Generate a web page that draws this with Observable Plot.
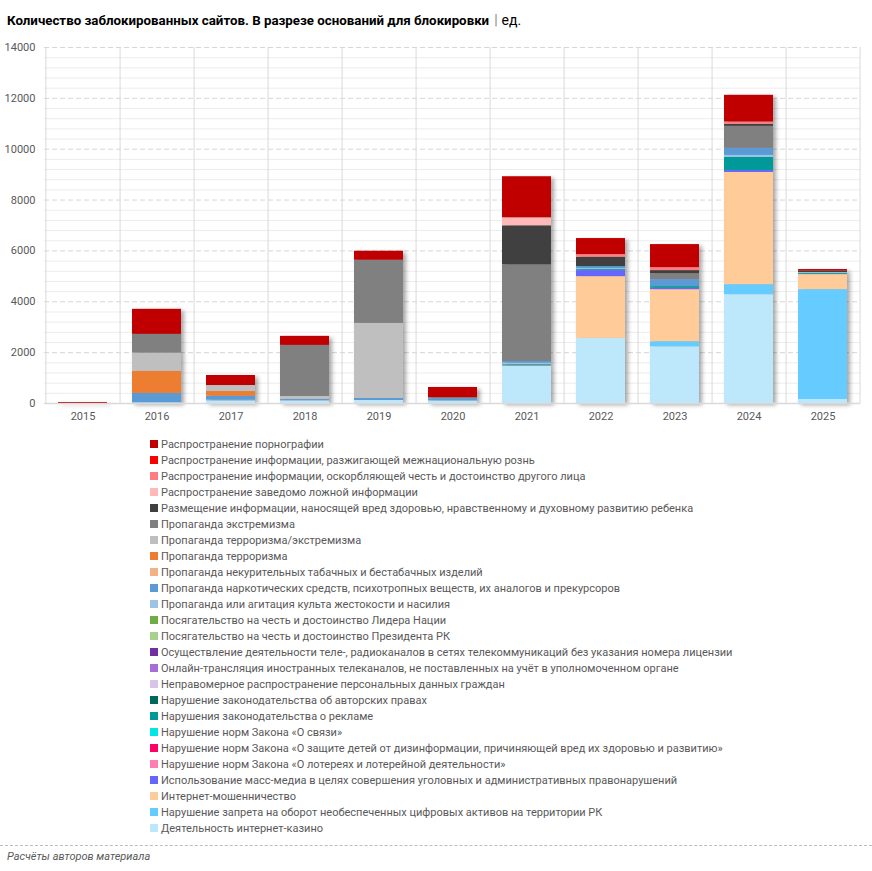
<!DOCTYPE html>
<html><head><meta charset="utf-8">
<script src="https://cdn.jsdelivr.net/npm/d3@7"></script>
<script src="https://cdn.jsdelivr.net/npm/@observablehq/plot@0.6"></script>
<style>
body{margin:0;background:#fff;font-family:Roboto,"Noto Sans",sans-serif;width:872px;}
#title{height:20px;padding-top:12px;padding-left:7px;font-size:13.3px;line-height:16px;color:#000;white-space:nowrap;}
#title b{font-weight:700}
#title .sep{color:#888;font-weight:400;font-size:14px;margin:0 4px 0 5px}
#title .u{font-weight:400;font-size:14px}
#legend{padding-top:3px;padding-left:150px;font-size:11px;color:#595959;}
#legend .row{height:16px;line-height:16px;white-space:nowrap;}
#legend .sw{display:inline-block;width:8px;height:8px;margin-right:3px;vertical-align:-0px;}
#rule{margin-top:8px;border-top:1px dashed #bdbdbd;}
#cap{padding-left:7px;padding-top:4px;font-size:11px;line-height:14px;font-style:italic;color:#595959;}
</style></head><body>
<div id="title"><b>Количество заблокированных сайтов. В разрезе оснований для блокировки</b><span class="sep">|</span><span class="u">ед.</span></div>
<div id="chart"></div>
<div id="legend"></div>
<div id="rule"></div>
<div id="cap">Расчёты авторов материала</div>
<script>
const years = ["2015","2016","2017","2018","2019","2020","2021","2022","2023","2024","2025"];
const yTicks = [0,2000,4000,6000,8000,10000,12000,14000];

// legend order (top of stack first)
const categories = [
  "Распространение порнографии",
  "Распространение информации, разжигающей межнациональную рознь",
  "Распространение информации, оскорбляющей честь и достоинство другого лица",
  "Распространение заведомо ложной информации",
  "Размещение информации, наносящей вред здоровью, нравственному и духовному развитию ребенка",
  "Пропаганда экстремизма",
  "Пропаганда терроризма/экстремизма",
  "Пропаганда терроризма",
  "Пропаганда некурительных табачных и бестабачных изделий",
  "Пропаганда наркотических средств, психотропных веществ, их аналогов и прекурсоров",
  "Пропаганда или агитация культа жестокости и насилия",
  "Посягательство на честь и достоинство Лидера Нации",
  "Посягательство на честь и достоинство Президента РК",
  "Осуществление деятельности теле-, радиоканалов в сетях телекоммуникаций без указания номера лицензии",
  "Онлайн-трансляция иностранных телеканалов, не поставленных на учёт в уполномоченном органе",
  "Неправомерное распространение персональных данных граждан",
  "Нарушение законодательства об авторских правах",
  "Нарушения законодательства о рекламе",
  "Нарушение норм Закона «О связи»",
  "Нарушение норм Закона «О защите детей от дизинформации, причиняющей вред их здоровью и развитию»",
  "Нарушение норм Закона «О лотереях и лотерейной деятельности»",
  "Использование масс-медиа в целях совершения уголовных и административных правонарушений",
  "Интернет-мошенничество",
  "Нарушение запрета на оборот необеспеченных цифровых активов на территории РК",
  "Деятельность интернет-казино"
];
const colors = [
  "#C00000","#FF0000","#FF7C80","#FFB9B9","#404040","#808080","#BFBFBF","#ED7D31","#F4B183",
  "#5B9BD5","#9DC3E6","#70AD47","#A9D18E","#7030A0","#A56FD6","#D9C3E9","#00695C","#009999",
  "#00E5E5","#FF0066","#FF7FB2","#6666FF","#FFCC99","#66CCFF","#BDE7FB"
];

// values per year 2015..2025
const porn        = [40, 985, 394, 355, 355, 400, 1615, 630, 906, 1050, 66];
const ethnic      = [0,0,0,0,0,0,0,0,0,0,0];
const insult      = [0,0,0,0,0,0,0,105,118,92,0];
const fake        = [0,0,0,0,0,0,315,0,0,0,0];
const harmChild   = [0,0,0,0,0,0,1536,368,118,79,53];
const extremism   = [0,735,0,2010,2482,40,3800,0,236,867,0];
const terrExtr    = [0,722,236,115,2954,0,0,0,0,0,0];
const terrorism   = [0,867,184,0,0,0,0,0,0,0,0];
const tobacco     = [0,0,0,0,0,0,0,0,0,0,0];
const narcotics   = [0,355,157,40,79,80,66,79,276,276,0];
const cruelty     = [0,40,40,40,0,30,66,40,0,79,40];
const leader      = [0,0,0,0,0,0,0,0,0,0,0];
const president   = [0,0,0,0,0,0,0,0,0,0,0];
const teleRadio   = [0,0,0,0,0,0,0,0,0,0,0];
const onlineTV    = [0,0,0,0,0,0,0,0,0,0,0];
const personal    = [0,0,0,0,0,0,0,0,0,0,0];
const copyright   = [0,0,0,0,0,0,40,0,0,0,0];
const advertising = [0,0,0,0,0,0,0,40,66,512,40];
const svyaz       = [0,0,0,0,0,0,0,0,0,0,0];
const children    = [0,0,0,0,0,0,0,0,0,0,0];
const lottery     = [0,0,0,0,0,0,0,0,0,0,0];
const massMedia   = [0,0,0,0,0,0,0,236,53,79,0];
const fraud       = [0,0,0,0,0,0,0,2429,2048,4412,591];
const crypto      = [0,0,0,0,0,0,0,0,197,394,4320];
const casino      = [0,0,90,80,118,80,1480,2560,2232,4280,158];

const seriesValues = [porn,ethnic,insult,fake,harmChild,extremism,terrExtr,terrorism,tobacco,
  narcotics,cruelty,leader,president,teleRadio,onlineTV,personal,copyright,advertising,svyaz,
  children,lottery,massMedia,fraud,crypto,casino];

// build table: bottom of stack = last category
const rows = [];
for (let i = categories.length - 1; i >= 0; i--) {
  years.forEach((y, j) => rows.push({year: y, cat: categories[i], value: seriesValues[i][j]}));
}

const width = 872, ml = 44, mr = 12;
const step = (width - ml - mr) / years.length;
const minor = d3.range(0, 14001, 400).filter(v => v % 2000 !== 0);

const chart = Plot.plot({
  width, height: 402,
  marginLeft: ml, marginRight: mr, marginTop: 15, marginBottom: 31,
  style: {fontFamily: "Roboto, 'Noto Sans', sans-serif", fontSize: "11px", color: "#595959", background: "#fff"},
  x: {domain: years, paddingInner: 0.34, paddingOuter: 0.17, label: null, tickSize: 0, tickPadding: 9},
  y: {domain: [0, 14000], ticks: yTicks, label: null, tickSize: 0, tickPadding: 9, tickFormat: d => String(d)},
  color: {domain: categories, range: colors},
  marks: [
    Plot.ruleY(minor, {stroke: "#ececec", strokeWidth: 1}),
    Plot.ruleY(yTicks.filter(v => v > 0), {stroke: "#d6d6d6", strokeDasharray: "5,3", strokeWidth: 1}),
    Plot.ruleX(years, {x: d => d, dx: step / 2, stroke: "#d9d9d9", strokeWidth: 1}),
    Plot.ruleX([years[0]], {x: d => d, dx: -step / 2, stroke: "#d9d9d9", strokeWidth: 1}),
    Plot.barY(rows, {x: "year", y: "value", fill: "cat", order: null}),
    Plot.ruleY([0], {stroke: "#d9d9d9", strokeWidth: 1.5})
  ]
});
d3.select(chart).selectAll('g[aria-label="bar"]').style("filter", "drop-shadow(3px 2px 2px rgba(0,0,0,0.35))");
d3.select(chart).selectAll('g[aria-label="x-axis tick label"] text, g[aria-label="y-axis tick label"] text').attr("fill", "#595959");
document.getElementById("chart").appendChild(chart);

const legend = d3.select("#legend");
categories.forEach((c, i) => {
  const r = legend.append("div").attr("class", "row");
  r.append("span").attr("class", "sw").style("background", colors[i]);
  r.append("span").text(c);
});
</script>
</body></html>
